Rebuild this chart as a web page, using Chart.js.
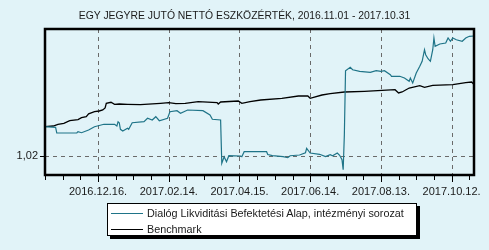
<!DOCTYPE html>
<html>
<head>
<meta charset="utf-8">
<script src="https://cdn.jsdelivr.net/npm/chart.js@4/dist/chart.umd.min.js"></script>
<style>
  body { margin: 0; background: #e1f3f8; font-family: "Liberation Sans", Arial, sans-serif; }
  #caja { position: relative; width: 489px; height: 250px; }
  #titulo { position: absolute; left: 0; top: 10px; width: 489px; text-align: center; font-size: 10.4px; color: #1a1a1a; }
  #leyenda { position: absolute; left: 107px; top: 203px; width: 308px; height: 30px; background: #fff;
    border: 1px solid #000; box-shadow: 3px 3px 0 #000; font-size: 10.8px; color: #1a1a1a; padding-top: 1px; }
  .fila { position: relative; height: 16px; line-height: 16px; }
  .linea { position: absolute; left: 3px; top: 8px; width: 32px; height: 0; border-top: 1px solid; }
  .texto { position: absolute; left: 39px; top: 0; white-space: nowrap; }
</style>
</head>
<body>
<div id="caja">
  <canvas id="grafico" width="489" height="250"></canvas>
  <div id="titulo">EGY JEGYRE JUTÓ NETTÓ ESZKÖZÉRTÉK, 2016.11.01 - 2017.10.31</div>
  <div id="leyenda">
    <div class="fila"><span class="linea" style="border-color:#1f7488"></span><span class="texto">Dialóg Likviditási Befektetési Alap, intézményi sorozat</span></div>
    <div class="fila"><span class="linea" style="border-color:#000"></span><span class="texto">Benchmark</span></div>
  </div>
</div>
<script>
const fechaInicio = "2016.11.01";
const fechaFin = "2017.10.31";

const fondoFechas = ["2016.11.01","2016.11.10","2016.11.11","2016.11.28","2016.11.29","2016.12.02","2016.12.08","2016.12.13","2016.12.21","2016.12.30",
  "2017.01.01","2017.01.02","2017.01.03","2017.01.04","2017.01.06","2017.01.10","2017.01.11","2017.01.14","2017.01.24","2017.01.27","2017.01.31",
  "2017.02.03","2017.02.06","2017.02.13","2017.02.15","2017.02.21","2017.02.24","2017.03.02","2017.03.15","2017.03.21","2017.03.23","2017.03.30","2017.03.31",
  "2017.04.01","2017.04.02","2017.04.04","2017.04.06","2017.04.16","2017.04.17","2017.04.19","2017.05.08","2017.05.09","2017.05.13","2017.05.22","2017.05.26","2017.05.28",
  "2017.06.05","2017.06.10","2017.06.11","2017.06.14","2017.06.22","2017.06.27","2017.07.01","2017.07.03","2017.07.07","2017.07.09","2017.07.11","2017.07.12","2017.07.13","2017.07.14",
  "2017.07.18","2017.07.20","2017.07.26","2017.08.04","2017.08.09","2017.08.13","2017.08.16","2017.08.21","2017.08.22","2017.08.29",
  "2017.09.02","2017.09.06","2017.09.07","2017.09.09","2017.09.12","2017.09.15","2017.09.17","2017.09.19","2017.09.20","2017.09.22","2017.09.24","2017.09.26","2017.09.27","2017.09.28",
  "2017.10.02","2017.10.07","2017.10.09","2017.10.11","2017.10.13","2017.10.16","2017.10.21","2017.10.24","2017.10.27","2017.10.31"];
const fondoValores = [1.02203,1.02199,1.02159,1.02159,1.02168,1.02161,1.02180,1.02203,1.02220,1.02220,
  1.02208,1.02238,1.02231,1.02185,1.02173,1.02192,1.02185,1.02231,1.02238,1.02262,1.02250,
  1.02273,1.02245,1.02262,1.02308,1.02315,1.02297,1.02320,1.02315,1.02285,1.02255,1.02250,1.01947,
  1.01970,1.01993,1.01958,1.02000,1.01998,1.01993,1.02028,1.02028,1.02008,1.02001,1.01993,1.01986,1.02000,
  1.02005,1.02021,1.02052,1.02019,1.02010,1.01994,1.02007,1.02000,1.02019,1.02003,1.01972,1.01902,1.02147,1.02595,
  1.02619,1.02602,1.02591,1.02584,1.02595,1.02591,1.02595,1.02567,1.02556,1.02556,
  1.02544,1.02521,1.02544,1.02509,1.02579,1.02626,1.02661,1.02742,1.02707,1.02679,1.02661,1.02742,1.02824,1.02766,
  1.02782,1.02789,1.02824,1.02801,1.02824,1.02812,1.02801,1.02824,1.02836,1.02838];

const benchFechas = ["2016.11.01","2016.11.08","2016.11.12","2016.11.17","2016.11.22","2016.11.29","2016.12.02","2016.12.06","2016.12.08","2016.12.13",
  "2016.12.17","2016.12.20","2016.12.22","2016.12.23","2016.12.27","2016.12.30","2017.01.03","2017.01.10","2017.01.21","2017.02.07","2017.02.14",
  "2017.02.20","2017.02.28","2017.03.11","2017.03.27","2017.03.28","2017.03.30","2017.04.14","2017.04.17","2017.04.24","2017.05.03","2017.05.21",
  "2017.06.04","2017.06.12","2017.06.14","2017.06.24","2017.07.01","2017.07.13","2017.07.30","2017.08.14","2017.08.25","2017.08.28","2017.08.31",
  "2017.09.06","2017.09.15","2017.09.19","2017.09.26","2017.10.13","2017.10.24","2017.10.29","2017.10.31"];
const benchValores = [1.02203,1.02208,1.02220,1.02227,1.02245,1.02253,1.02266,1.02274,1.02293,1.02308,
  1.02313,1.02320,1.02334,1.02367,1.02374,1.02360,1.02362,1.02360,1.02358,1.02367,1.02371,
  1.02365,1.02367,1.02378,1.02372,1.02362,1.02376,1.02383,1.02367,1.02379,1.02390,1.02402,
  1.02418,1.02418,1.02402,1.02425,1.02435,1.02446,1.02451,1.02458,1.02462,1.02439,1.02446,
  1.02474,1.02491,1.02479,1.02493,1.02498,1.02511,1.02516,1.02498];

const xTicks = ["2016.12.16","2017.02.14","2017.04.15","2017.06.14","2017.08.13","2017.10.12"];
const yTicks = [1.02];
const yMin = 1.01865;
const yMax = 1.02887;
const pasoMenor = 15; // dias entre marcas menores

function dia(s) {
  const p = s.split(".").map(Number);
  const q = fechaInicio.split(".").map(Number);
  return Math.round((Date.UTC(p[0], p[1] - 1, p[2]) - Date.UTC(q[0], q[1] - 1, q[2])) / 86400000);
}

function puntos(fechas, valores) {
  return fechas.map((f, i) => ({ x: dia(f), y: valores[i] }));
}

const marco = {
  id: "marco",
  beforeDatasetsDraw(chart) {
    const { ctx, chartArea: a, scales } = chart;
    ctx.save();
    ctx.strokeStyle = "#6a6a6a";
    ctx.lineWidth = 1;
    ctx.setLineDash([4, 4]);
    xTicks.forEach(t => {
      const x = Math.round(scales.x.getPixelForValue(dia(t))) + 0.5;
      ctx.beginPath(); ctx.moveTo(x, a.top); ctx.lineTo(x, a.bottom); ctx.stroke();
    });
    yTicks.forEach(v => {
      const y = Math.round(scales.y.getPixelForValue(v)) + 0.5;
      ctx.beginPath(); ctx.moveTo(a.left, y); ctx.lineTo(a.right, y); ctx.stroke();
    });
    ctx.restore();
  },
  afterDatasetsDraw(chart) {
    const { ctx, chartArea: a, scales } = chart;
    ctx.save();
    ctx.strokeStyle = "#000";
    ctx.lineWidth = 1;
    const fin = dia(fechaFin);
    for (let d = 0; d <= fin; d += pasoMenor) {
      const x = Math.round(scales.x.getPixelForValue(d)) + 0.5;
      ctx.beginPath(); ctx.moveTo(x, a.bottom); ctx.lineTo(x, a.bottom + 5); ctx.stroke();
    }
    xTicks.forEach(t => {
      const x = Math.round(scales.x.getPixelForValue(dia(t))) + 0.5;
      ctx.beginPath(); ctx.moveTo(x, a.bottom); ctx.lineTo(x, a.bottom + 7); ctx.stroke();
    });
    yTicks.forEach(v => {
      const y = Math.round(scales.y.getPixelForValue(v)) + 0.5;
      ctx.beginPath(); ctx.moveTo(a.left - 5, y); ctx.lineTo(a.left, y); ctx.stroke();
    });
    ctx.lineWidth = 2.5;
    ctx.strokeRect(a.left, a.top, a.right - a.left, a.bottom - a.top);
    ctx.restore();
  }
};

const fuente = { family: "'Liberation Sans', Arial, sans-serif", size: 11 };

new Chart(document.getElementById("grafico"), {
  type: "line",
  data: {
    datasets: [
      {
        label: "Dialóg Likviditási Befektetési Alap, intézményi sorozat",
        data: puntos(fondoFechas, fondoValores),
        borderColor: "#1f7488",
        borderWidth: 1.2,
        pointRadius: 0,
        tension: 0,
      },
      {
        label: "Benchmark",
        data: puntos(benchFechas, benchValores),
        borderColor: "#000",
        borderWidth: 1.3,
        pointRadius: 0,
        tension: 0,
      },
    ],
  },
  options: {
    responsive: false,
    animation: false,
    layout: { padding: { left: 0, right: 15, top: 29, bottom: 48 } },
    plugins: { legend: { display: false }, title: { display: false }, tooltip: { enabled: false } },
    scales: {
      x: {
        type: "linear",
        min: 0,
        max: dia(fechaFin),
        grid: { display: false, drawTicks: false },
        border: { display: false },
        afterBuildTicks: s => { s.ticks = xTicks.map(t => ({ value: dia(t) })); },
        afterFit: s => { s.height = 27; s.paddingLeft = 0; s.paddingRight = 0; },
        ticks: {
          autoSkip: false,
          maxRotation: 0,
          padding: 10,
          color: "#1a1a1a",
          font: fuente,
          callback: (v, i) => xTicks[i] + ".",
        },
      },
      y: {
        min: yMin,
        max: yMax,
        grid: { display: false, drawTicks: false },
        border: { display: false },
        afterBuildTicks: s => { s.ticks = yTicks.map(v => ({ value: v })); },
        afterFit: s => { s.width = 45; },
        ticks: {
          padding: 7,
          color: "#1a1a1a",
          font: fuente,
          callback: v => v.toFixed(2).replace(".", ","),
        },
      },
    },
  },
  plugins: [marco],
});
</script>
</body>
</html>
